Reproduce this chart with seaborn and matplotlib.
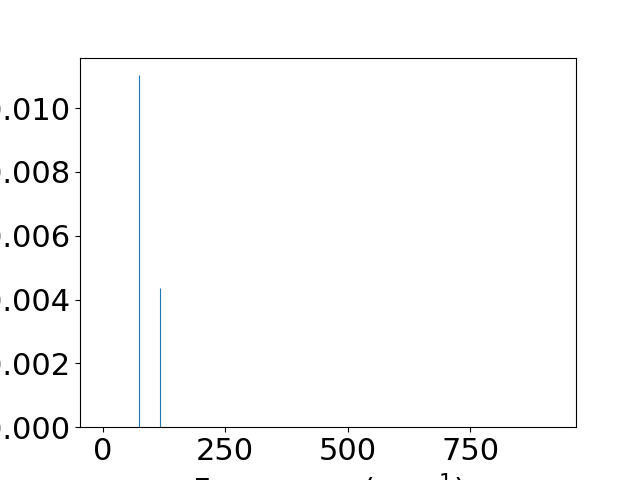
import numpy as np
import seaborn as sns
import matplotlib
matplotlib.use("Agg")
import matplotlib.pyplot as plt

# frequencies (cm^-1) and intensities; zero-intensity end points set the range
freqs = [0, 73.5, 117.5, 920]
intensity = [0.0, 0.01103, 0.00436, 0.0]

blue = sns.color_palette("tab10")[0]

fig, ax = plt.subplots(figsize=(6.4, 4.8), dpi=100)
ax.vlines(freqs, 0, intensity, color=blue, linewidth=0.8)
ax.set_ylim(0, max(intensity) * 1.05)
ax.set_xticks([0, 250, 500, 750])
ax.tick_params(labelsize=22)
ax.set_xlabel("Frequency (cm$^{-1}$)", fontsize=22)
ax.set_ylabel("Intensity", fontsize=22)

plt.savefig("out.png", dpi=100)
